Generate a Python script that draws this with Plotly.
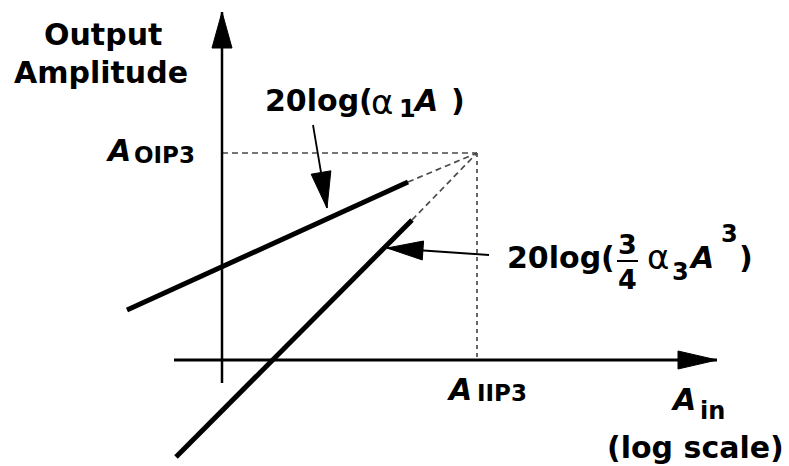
import plotly.graph_objects as go

# diagram units: origin where the axes cross, 1 unit = 10 px
W, H = 789, 466
x_range = [-22.2, 56.7]
y_range = [-10.6, 36.0]
PX = 10.0

# axes
xaxis_span = [-4.8, 49.5]
yaxis_span = [-2.3, 34.8]

# intercept point
A_IIP3 = 25.5
A_OIP3 = 20.7

# fundamental 20log(a1 A) and third order 20log(3/4 a3 A^3), solid part
lin_x = [-9.5, 18.6]
lin_y = [5.0, 17.8]
cub_x = [-4.6, 19.0]
cub_y = [-9.7, 14.0]

# label pointer arrows (tail, tip)
ptr1 = [(9.1, 23.5), (10.5, 15.2)]
ptr2 = [(26.7, 10.5), (16.5, 11.2)]

FONT = "DejaVu Sans"


def head(tip, tail, length, half):
    # filled triangle pointing at tip, size in px
    dx, dy = tip[0] - tail[0], tip[1] - tail[1]
    n = (dx * dx + dy * dy) ** 0.5
    ux, uy = dx / n, dy / n
    L, w = length / PX, half / PX
    bx, by = tip[0] - ux * L, tip[1] - uy * L
    return go.Scatter(x=[tip[0], bx - uy * w, bx + uy * w, tip[0]],
                      y=[tip[1], by + ux * w, by - ux * w, tip[1]],
                      mode='lines', fill='toself', fillcolor='black',
                      line=dict(color='black', width=1), hoverinfo='skip')


def line(xs, ys, width, color='black', dash='solid'):
    return go.Scatter(x=xs, y=ys, mode='lines', hoverinfo='skip',
                      line=dict(color=color, width=width, dash=dash))


fig = go.Figure()

# dashed construction lines
fig.add_trace(line([0, A_IIP3], [A_OIP3, A_OIP3], 1.7, '#4a4a4a', '6px,4px'))
fig.add_trace(line([A_IIP3, A_IIP3], [A_OIP3, 0], 1.7, '#4a4a4a', '4px,4px'))
fig.add_trace(line([lin_x[1], A_IIP3], [lin_y[1], A_OIP3], 1.7, '#4a4a4a', '6px,4px'))
fig.add_trace(line([cub_x[1], A_IIP3], [cub_y[1], A_OIP3], 1.7, '#4a4a4a', '6px,4px'))

# axes
fig.add_trace(line(xaxis_span, [0, 0], 3))
fig.add_trace(line([0, 0], yaxis_span, 2.5))
fig.add_trace(head((xaxis_span[1], 0), (0, 0), 39, 9))
fig.add_trace(head((0, yaxis_span[1]), (0, 0), 36, 10))

# the two curves
fig.add_trace(line(lin_x, lin_y, 5))
fig.add_trace(line(cub_x, cub_y, 5))

# pointers
for p in (ptr1, ptr2):
    fig.add_trace(line([p[0][0], p[1][0]], [p[0][1], p[1][1]], 1.8))
fig.add_trace(head(ptr1[1], ptr1[0], 36, 10))
fig.add_trace(head(ptr2[1], ptr2[0], 36, 9.5))


def txt(s, px, py, size=30, xanchor='left', family=FONT):
    fig.add_annotation(text=s, x=px / W, y=1 - py / H, xref='paper', yref='paper',
                       xanchor=xanchor, yanchor='middle', showarrow=False,
                       font=dict(family=family, size=size, color='black'))


txt('<b>Output</b>', 103, 34, xanchor='center')
txt('<b>Amplitude</b>', 101, 72, xanchor='center')

txt('<b><i>A</i></b>', 104, 150)
txt('<b>OIP3</b>', 132, 155, size=23)

txt('<b>20log(</b>', 263, 100)
txt('α', 369, 102, size=34)
txt('<b>1</b>', 397, 109, size=24)
txt('<b><i>A</i></b>', 411, 100)
txt('<b>)</b>', 449, 100)

txt('<b>20log(</b>', 505, 257.5)
txt('<b>3</b>', 627.5, 245, size=27, xanchor='center')
txt('<b>4</b>', 627.5, 279, size=27, xanchor='center')
fig.add_shape(type='line', xref='paper', yref='paper', x0=617 / W, x1=638 / W,
              y0=1 - 261 / H, y1=1 - 261 / H, line=dict(color='black', width=2))
txt('α', 645, 257, size=34)
txt('<b>3</b>', 670, 272, size=24)
txt('<b><i>A</i></b>', 687, 257.5)
txt('<b>3</b>', 719, 234, size=24)
txt('<b>)</b>', 737, 257.5)

txt('<b><i>A</i></b>', 445, 389)
txt('<b>IIP3</b>', 475, 393, size=23)

txt('<b><i>A</i></b>', 669, 399)
txt('<b>in</b>', 698, 411, size=24)
txt('<b>(log scale)</b>', 695, 447, xanchor='center')

fig.update_layout(
    width=W, height=H, autosize=False,
    margin=dict(l=0, r=0, t=0, b=0),
    paper_bgcolor='white', plot_bgcolor='white',
    showlegend=False,
    xaxis=dict(range=x_range, visible=False, fixedrange=True),
    yaxis=dict(range=y_range, visible=False, fixedrange=True),
)

fig.write_html("out.html", config={'displayModeBar': False},
               post_script="document.body.style.margin='0';document.body.style.overflow='hidden';")
